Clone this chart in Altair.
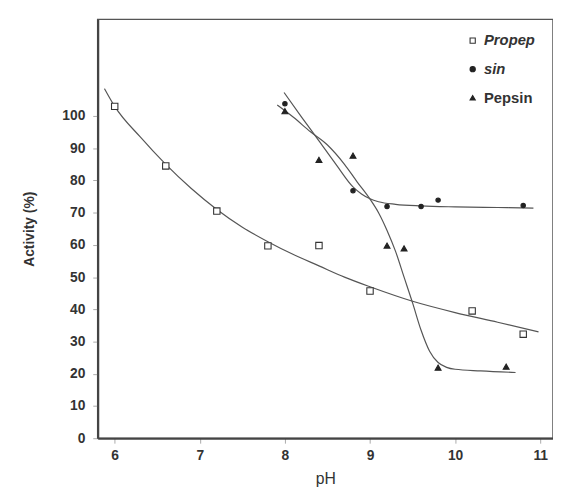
import altair as alt
import pandas as pd

# Measured points
propep_x = [6.0, 6.6, 7.2, 7.8, 8.4, 9.0, 10.2, 10.8]
propep_y = [103, 84.5, 70.5, 59.7, 59.8, 45.7, 39.5, 32.3]
sin_x = [8.0, 8.8, 9.2, 9.6, 9.8, 10.8]
sin_y = [103.8, 76.8, 71.9, 71.9, 73.9, 72.2]
pepsin_x = [8.0, 8.4, 8.8, 9.2, 9.4, 9.8, 10.6]
pepsin_y = [101.5, 86.4, 87.7, 59.8, 58.9, 21.9, 22.2]

# Fitted curves
propep_cx = [5.88, 6.0, 6.3, 6.6, 6.9, 7.2, 7.5, 7.8, 8.1, 8.4, 8.7, 9.0, 9.5, 10.0, 10.5, 10.98]
propep_cy = [108.5, 103, 93.5, 85, 77.5, 71, 65.5, 61, 57, 53.5, 50, 47, 42.5, 39, 36, 33]
sin_cx = [7.99, 8.2, 8.4, 8.6, 8.8, 8.9, 9.0, 9.1, 9.3, 9.6, 10.0, 10.5, 10.92]
sin_cy = [107.3, 99.5, 92.3, 85, 78, 75.8, 74.3, 73.4, 72.6, 72.1, 71.8, 71.6, 71.4]
pepsin_cx = [7.91, 8.1, 8.3, 8.5, 8.7, 8.85, 9.0, 9.1, 9.2, 9.3, 9.4, 9.5, 9.6, 9.7, 9.8, 9.9, 10.0, 10.3, 10.71]
pepsin_cy = [103.4, 99.6, 95.1, 91, 85, 79.5, 74.2, 70, 64.5, 58, 50, 42, 33.5, 27, 23.5, 22, 21.4, 20.9, 20.4]

series = ["Propep", "sin", "Pepsin"]
sizes = {"Propep": 42, "sin": 20, "Pepsin": 36}

pts = pd.concat([
    pd.DataFrame({"pH": propep_x, "act": propep_y, "s": "Propep"}),
    pd.DataFrame({"pH": sin_x, "act": sin_y, "s": "sin"}),
    pd.DataFrame({"pH": pepsin_x, "act": pepsin_y, "s": "Pepsin"}),
])
curves = pd.concat([
    pd.DataFrame({"pH": propep_cx, "act": propep_cy, "s": "Propep"}),
    pd.DataFrame({"pH": sin_cx, "act": sin_cy, "s": "sin"}),
    pd.DataFrame({"pH": pepsin_cx, "act": pepsin_cy, "s": "Pepsin"}),
])

FONT = "Liberation Sans"

x = alt.X("pH:Q", title="pH",
          scale=alt.Scale(domain=[5.8, 11.15], nice=False, zero=False),
          axis=alt.Axis(values=[6, 7, 8, 9, 10, 11], format="d"))
y = alt.Y("act:Q", title="Activity (%)",
          scale=alt.Scale(domain=[0, 130], nice=False),
          axis=alt.Axis(values=list(range(0, 101, 10))))

def leg():
    return alt.Legend(title=None, orient="none", legendX=373, legendY=14,
                      labelFont=FONT, labelFontSize=15, labelFontWeight="bold",
                      labelColor="#333", rowPadding=13, symbolStrokeWidth=1.1,
                      symbolSize=28,
                      labelFontStyle=alt.ExprRef("datum.label == 'Pepsin' ? 'normal' : 'italic'"))

lines = alt.Chart(curves).mark_line(color="#555", strokeWidth=1.2, interpolate="monotone").encode(
    x=x, y=y, detail="s:N", order=alt.Order("pH:Q"))

layers = [lines]
for s in series:
    layers.append(
        alt.Chart(pts).transform_filter(alt.datum.s == s)
        .mark_point(filled=False, strokeWidth=1.1, opacity=1, size=sizes[s])
        .encode(
            x=x, y=y,
            shape=alt.Shape("s:N", scale=alt.Scale(domain=series, range=["square", "circle", "triangle-up"]), legend=leg()),
            fill=alt.Fill("s:N", scale=alt.Scale(domain=series, range=["white", "#222", "#222"]), legend=leg()),
            stroke=alt.Stroke("s:N", scale=alt.Scale(domain=series, range=["#333", "#222", "#222"]), legend=leg()),
        )
    )

chart = alt.layer(*layers).properties(
    width=462, height=425,
    padding={"left": 14, "top": 8, "right": 0, "bottom": 0},
).configure_view(
    stroke="#555", strokeWidth=1.5
).configure_axis(
    grid=False,
    domainColor="#444", domainWidth=2.2,
    tickColor="#aaa", tickSize=5, tickWidth=1,
    labelFont=FONT, labelFontSize=14, labelFontWeight="bold", labelColor="#333",
    titleFont=FONT, titleColor="#333",
).configure_axisX(
    labelPadding=6, titleFontSize=16, titleFontWeight="normal", titlePadding=8,
).configure_axisY(
    labelPadding=8, titleFontSize=14, titleFontWeight="bold", titlePadding=26,
)

chart.save("out.html", embed_options={"renderer": "svg", "actions": False})
